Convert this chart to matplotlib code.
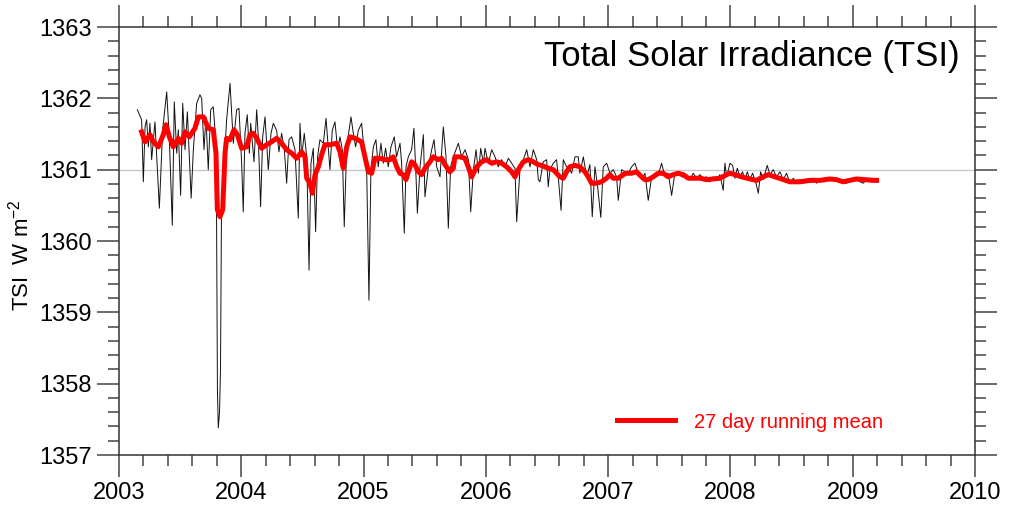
import matplotlib.pyplot as plt

plt.rcParams['font.family'] = ['Liberation Sans', 'DejaVu Sans']
plt.rcParams['mathtext.default'] = 'regular'

# daily TSI (peaks and dips)
tsi_year = [
    2003.150, 2003.185, 2003.199, 2003.213, 2003.226, 2003.240, 2003.253, 2003.267, 2003.294, 2003.330,
    2003.357, 2003.390, 2003.411, 2003.436, 2003.452, 2003.472, 2003.485, 2003.504, 2003.521, 2003.540,
    2003.559, 2003.590, 2003.608, 2003.635, 2003.662, 2003.676, 2003.695, 2003.711, 2003.730, 2003.750,
    2003.771, 2003.785, 2003.797, 2003.805, 2003.812, 2003.822, 2003.830, 2003.838, 2003.853, 2003.880,
    2003.908, 2003.935, 2003.962, 2003.981, 2004.003, 2004.016, 2004.030, 2004.049, 2004.066, 2004.077,
    2004.104, 2004.126, 2004.139, 2004.158, 2004.175, 2004.194, 2004.221, 2004.243, 2004.262, 2004.289,
    2004.308, 2004.330, 2004.352, 2004.371, 2004.390, 2004.412, 2004.439, 2004.466, 2004.480, 2004.494,
    2004.515, 2004.535, 2004.554, 2004.570, 2004.589, 2004.608, 2004.624, 2004.643, 2004.671, 2004.693,
    2004.711, 2004.725, 2004.744, 2004.766, 2004.788, 2004.807, 2004.826, 2004.842, 2004.862, 2004.881,
    2004.897, 2004.916, 2004.935, 2004.957, 2004.984, 2005.006, 2005.025, 2005.044, 2005.060, 2005.080,
    2005.101, 2005.120, 2005.142, 2005.161, 2005.180, 2005.202, 2005.224, 2005.251, 2005.270, 2005.298,
    2005.311, 2005.333, 2005.347, 2005.366, 2005.393, 2005.412, 2005.429, 2005.440, 2005.462, 2005.489,
    2005.502, 2005.530, 2005.557, 2005.576, 2005.598, 2005.625, 2005.652, 2005.674, 2005.693, 2005.712,
    2005.734, 2005.775, 2005.802, 2005.830, 2005.857, 2005.876, 2005.898, 2005.920, 2005.939, 2005.958,
    2005.980, 2005.993, 2006.020, 2006.048, 2006.075, 2006.102, 2006.129, 2006.157, 2006.184, 2006.211,
    2006.238, 2006.252, 2006.279, 2006.307, 2006.334, 2006.361, 2006.388, 2006.416, 2006.429, 2006.442,
    2006.469, 2006.497, 2006.510, 2006.524, 2006.551, 2006.578, 2006.592, 2006.615, 2006.633, 2006.660,
    2006.679, 2006.701, 2006.729, 2006.756, 2006.769, 2006.797, 2006.824, 2006.851, 2006.870, 2006.892,
    2006.914, 2006.940, 2006.960, 2006.988, 2007.015, 2007.042, 2007.069, 2007.083, 2007.110, 2007.137,
    2007.165, 2007.192, 2007.219, 2007.246, 2007.274, 2007.301, 2007.328, 2007.356, 2007.383, 2007.410,
    2007.437, 2007.465, 2007.492, 2007.519, 2007.546, 2007.574, 2007.601, 2007.628, 2007.642, 2007.669,
    2007.696, 2007.723, 2007.751, 2007.778, 2007.805, 2007.832, 2007.860, 2007.887, 2007.914, 2007.941,
    2007.955, 2007.969, 2007.996, 2008.018, 2008.037, 2008.056, 2008.078, 2008.099, 2008.119, 2008.138,
    2008.159, 2008.181, 2008.209, 2008.228, 2008.247, 2008.268, 2008.301, 2008.323, 2008.350, 2008.377,
    2008.405, 2008.432, 2008.459, 2008.487, 2008.514, 2008.541, 2008.568, 2008.596, 2008.623, 2008.650,
    2008.677, 2008.705, 2008.732, 2008.759, 2008.786, 2008.814, 2008.841, 2008.868, 2008.895, 2008.923,
    2008.950, 2008.977, 2009.004, 2009.032, 2009.059, 2009.086, 2009.114, 2009.141, 2009.168, 2009.209,
]
tsi_value = [
    1361.84, 1361.70, 1360.83, 1361.60, 1361.70, 1361.32, 1361.65, 1361.14, 1361.67, 1360.46,
    1361.56, 1362.09, 1361.46, 1360.22, 1361.95, 1361.23, 1361.56, 1360.64, 1361.93, 1361.28,
    1361.81, 1360.60, 1361.28, 1361.93, 1362.05, 1362.00, 1361.28, 1361.74, 1361.00, 1361.84,
    1361.88, 1361.56, 1360.60, 1357.90, 1357.38, 1357.60, 1358.20, 1360.40, 1360.86, 1361.70,
    1362.21, 1361.37, 1361.84, 1361.86, 1361.09, 1360.41, 1361.51, 1361.77, 1361.23, 1361.65,
    1361.11, 1361.84, 1361.46, 1360.48, 1361.46, 1361.74, 1361.00, 1361.51, 1361.65, 1361.55,
    1361.25, 1361.51, 1361.28, 1360.81, 1361.42, 1361.46, 1361.28, 1360.32, 1361.65, 1361.18,
    1361.51, 1361.18, 1359.59, 1361.09, 1361.30, 1360.13, 1361.18, 1361.42, 1361.37, 1361.72,
    1361.32, 1361.00, 1361.55, 1361.67, 1361.28, 1361.46, 1361.28, 1360.20, 1361.32, 1361.55,
    1361.74, 1361.51, 1361.32, 1361.55, 1361.65, 1361.23, 1361.04, 1359.17, 1361.00, 1361.32,
    1361.42, 1361.04, 1361.37, 1361.09, 1361.30, 1361.04, 1361.32, 1361.46, 1361.18, 1361.37,
    1361.09, 1360.11, 1361.04, 1361.18, 1361.28, 1361.58, 1360.90, 1360.39, 1361.04, 1361.49,
    1360.62, 1361.04, 1361.28, 1361.42, 1361.04, 1360.90, 1361.60, 1361.18, 1360.18, 1361.04,
    1361.18, 1361.37, 1361.18, 1361.28, 1361.14, 1360.41, 1361.00, 1361.28, 1360.95, 1361.30,
    1361.09, 1361.30, 1361.09, 1361.28, 1361.18, 1361.04, 1361.14, 1361.04, 1361.16, 1361.09,
    1361.02, 1360.27, 1361.00, 1361.14, 1361.28, 1361.04, 1361.28, 1361.14, 1360.86, 1360.83,
    1361.11, 1361.14, 1360.76, 1361.00, 1361.09, 1361.14, 1360.90, 1360.43, 1361.14, 1361.04,
    1361.04, 1360.95, 1361.18, 1361.18, 1360.95, 1361.18, 1360.90, 1361.07, 1360.34, 1361.04,
    1360.76, 1360.33, 1361.04, 1361.09, 1360.95, 1361.00, 1360.90, 1360.57, 1361.00, 1360.97,
    1360.95, 1361.04, 1361.09, 1360.95, 1360.86, 1360.95, 1360.57, 1360.90, 1360.95, 1360.93,
    1361.09, 1360.90, 1360.95, 1360.64, 1360.95, 1360.97, 1360.90, 1360.90, 1360.93, 1360.86,
    1360.95, 1360.88, 1360.93, 1360.88, 1360.90, 1360.83, 1360.90, 1360.86, 1360.93, 1360.71,
    1361.09, 1360.90, 1361.09, 1361.06, 1360.88, 1361.02, 1360.90, 1360.97, 1360.86, 1360.97,
    1360.86, 1360.95, 1360.81, 1360.67, 1360.97, 1360.86, 1361.06, 1360.93, 1361.00, 1360.90,
    1360.97, 1360.86, 1360.95, 1360.81, 1360.88, 1360.81, 1360.86, 1360.81, 1360.87, 1360.82,
    1360.88, 1360.81, 1360.86, 1360.83, 1360.87, 1360.86, 1360.88, 1360.86, 1360.82, 1360.83,
    1360.81, 1360.86, 1360.87, 1360.86, 1360.83, 1360.81, 1360.86, 1360.83, 1360.87, 1360.86,
]

# 27 day running mean (red curve)
mean_year = [
    2003.185, 2003.213, 2003.253, 2003.281, 2003.322, 2003.362, 2003.384, 2003.412, 2003.444, 2003.485,
    2003.512, 2003.540, 2003.575, 2003.621, 2003.649, 2003.690, 2003.730, 2003.771, 2003.793, 2003.804,
    2003.826, 2003.848, 2003.867, 2003.880, 2003.908, 2003.940, 2003.968, 2004.003, 2004.044, 2004.071,
    2004.098, 2004.126, 2004.167, 2004.208, 2004.248, 2004.289, 2004.330, 2004.371, 2004.412, 2004.453,
    2004.494, 2004.521, 2004.535, 2004.562, 2004.581, 2004.603, 2004.630, 2004.657, 2004.684, 2004.725,
    2004.780, 2004.807, 2004.834, 2004.862, 2004.889, 2004.930, 2004.984, 2005.011, 2005.039, 2005.066,
    2005.093, 2005.134, 2005.175, 2005.216, 2005.243, 2005.271, 2005.298, 2005.325, 2005.347, 2005.366,
    2005.393, 2005.420, 2005.448, 2005.475, 2005.502, 2005.543, 2005.570, 2005.611, 2005.638, 2005.666,
    2005.706, 2005.734, 2005.747, 2005.788, 2005.829, 2005.856, 2005.884, 2005.925, 2005.965, 2006.006,
    2006.047, 2006.088, 2006.129, 2006.170, 2006.211, 2006.238, 2006.265, 2006.306, 2006.347, 2006.388,
    2006.428, 2006.456, 2006.510, 2006.551, 2006.578, 2006.605, 2006.633, 2006.660, 2006.687, 2006.728,
    2006.769, 2006.810, 2006.837, 2006.864, 2006.905, 2006.946, 2006.987, 2007.014, 2007.042, 2007.083,
    2007.123, 2007.151, 2007.192, 2007.232, 2007.273, 2007.301, 2007.328, 2007.369, 2007.410, 2007.450,
    2007.491, 2007.532, 2007.573, 2007.614, 2007.655, 2007.710, 2007.751, 2007.805, 2007.860, 2007.914,
    2007.969, 2007.996, 2008.037, 2008.091, 2008.159, 2008.214, 2008.268, 2008.309, 2008.364, 2008.418,
    2008.486, 2008.568, 2008.650, 2008.732, 2008.813, 2008.868, 2008.922, 2008.977, 2009.031, 2009.100,
    2009.168, 2009.195,
]
mean_value = [
    1361.53, 1361.39, 1361.49, 1361.39, 1361.32, 1361.49, 1361.63, 1361.46, 1361.32, 1361.44,
    1361.37, 1361.53, 1361.46, 1361.58, 1361.74, 1361.74, 1361.58, 1361.56, 1361.23, 1360.44,
    1360.34, 1360.44, 1361.23, 1361.44, 1361.42, 1361.56, 1361.49, 1361.30, 1361.32, 1361.49,
    1361.51, 1361.44, 1361.30, 1361.35, 1361.39, 1361.44, 1361.37, 1361.28, 1361.23, 1361.16,
    1361.25, 1361.18, 1360.88, 1360.81, 1360.67, 1360.93, 1361.04, 1361.21, 1361.35, 1361.35,
    1361.37, 1361.25, 1361.02, 1361.32, 1361.46, 1361.44, 1361.39, 1361.18, 1360.97, 1360.95,
    1361.16, 1361.16, 1361.14, 1361.14, 1361.18, 1361.04, 1360.95, 1360.93, 1360.86, 1360.97,
    1361.11, 1361.07, 1360.97, 1360.93, 1361.02, 1361.11, 1361.18, 1361.14, 1361.16, 1361.07,
    1360.97, 1361.02, 1361.18, 1361.18, 1361.16, 1361.04, 1360.90, 1361.04, 1361.11, 1361.14,
    1361.09, 1361.11, 1361.09, 1361.04, 1360.97, 1360.90, 1361.00, 1361.11, 1361.14, 1361.11,
    1361.07, 1361.06, 1361.02, 1361.00, 1360.95, 1360.90, 1360.88, 1360.97, 1361.04, 1361.06,
    1361.04, 1360.97, 1360.90, 1360.81, 1360.81, 1360.83, 1360.88, 1360.93, 1360.88, 1360.88,
    1360.93, 1360.95, 1360.95, 1360.97, 1360.90, 1360.86, 1360.86, 1360.90, 1360.95, 1360.95,
    1360.90, 1360.93, 1360.95, 1360.93, 1360.88, 1360.88, 1360.88, 1360.86, 1360.87, 1360.88,
    1360.93, 1360.95, 1360.93, 1360.90, 1360.87, 1360.85, 1360.90, 1360.93, 1360.90, 1360.87,
    1360.83, 1360.83, 1360.85, 1360.85, 1360.87, 1360.86, 1360.83, 1360.85, 1360.87, 1360.86,
    1360.85, 1360.85,
]

x_ticks = [2003, 2004, 2005, 2006, 2007, 2008, 2009, 2010]
y_ticks = [1357, 1358, 1359, 1360, 1361, 1362, 1363]

fig = plt.figure(figsize=(10.1, 5.05), dpi=100)
ax = fig.add_axes([119 / 1010, 50 / 505, 856 / 1010, 428 / 505])

ax.axhline(1361, color='#c8c8c8', lw=1.0, zorder=1)
ax.plot(tsi_year, tsi_value, color='#111111', lw=0.7, zorder=2, label='_nolegend_')
ax.plot(mean_year, mean_value, color='#ff0000', lw=3.6, zorder=3,
        solid_joinstyle='round', label='27 day running mean')

ax.set_xlim(2003, 2010)
ax.set_ylim(1357, 1363)
ax.set_xticks(x_ticks)
ax.set_yticks(y_ticks)
ax.set_xticks([x / 5 for x in range(2003 * 5, 2010 * 5 + 1)], minor=True)
ax.set_yticks([y / 5 for y in range(1357 * 5, 1363 * 5 + 1)], minor=True)
ax.tick_params(which='both', direction='out', top=True, right=True, width=1.1,
               color='#444444', labelcolor='black')
ax.tick_params(which='major', length=16, labelsize=17, pad=3.5)
ax.tick_params(which='minor', length=8)
for s in ax.spines.values():
    s.set_linewidth(1.1)
    s.set_color('#333333')

ax.text(0.982, 0.93, 'Total Solar Irradiance (TSI)', transform=ax.transAxes,
        ha='right', va='center', fontsize=25)
fig.text(0.02, 0.495, 'TSI  W m$^{-2}$', rotation=90, ha='center', va='center', fontsize=16)

ax.legend(loc='center left', bbox_to_anchor=(0.582, 0.077), frameon=False,
          fontsize=14.5, labelcolor='#ff0000', handlelength=2.85, handletextpad=0.95,
          borderpad=0, borderaxespad=0)

plt.savefig('out.png', dpi=100)
